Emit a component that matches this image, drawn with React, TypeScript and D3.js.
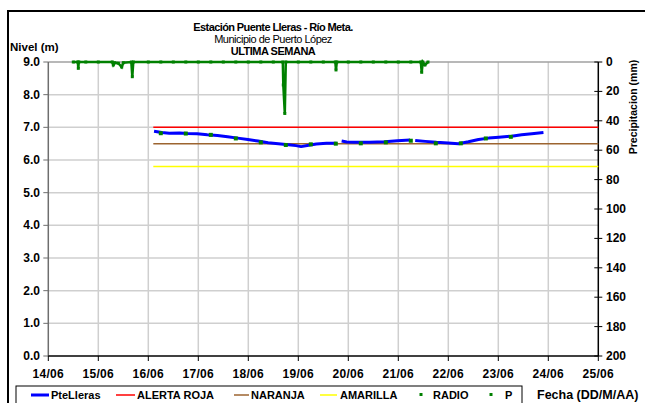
import React from "react";
import * as d3 from "d3";

const dateLabels = ["14/06","15/06","16/06","17/06","18/06","19/06","20/06","21/06","22/06","23/06","24/06","25/06"];
const levelTicks = [0,1,2,3,4,5,6,7,8,9];
const precipTicks = [0,20,40,60,80,100,120,140,160,180,200];

// days since 14/06 00:00
const levelDays = [2.115,2.268,2.420,2.623,2.775,2.977,3.180,3.383,3.586,3.789,3.991,4.194,4.397,4.600,4.803,4.955,5.056,5.208,5.360,5.563,5.766,5.817,5.867,5.969,6.121,6.425,6.729,6.983,7.236,7.287,7.338,7.540,7.763,7.997,8.200,8.402,8.605,8.808,9.011,9.264,9.467,9.670,9.903];
const levelValues: (number|null)[] = [6.88,6.84,6.82,6.83,6.81,6.80,6.77,6.75,6.71,6.67,6.63,6.58,6.53,6.50,6.47,6.44,6.41,6.45,6.49,6.51,6.51,null,6.58,6.55,6.54,6.54,6.56,6.59,6.61,null,6.60,6.57,6.54,6.52,6.50,6.56,6.63,6.67,6.70,6.73,6.77,6.80,6.84];

const radioDays = [2.25,2.75,3.25,3.75,4.25,4.75,5.25,5.75,6.25,6.75,7.25,7.75,8.25,8.75,9.25];
const radioValues = [6.82,6.81,6.77,6.66,6.54,6.46,6.48,6.50,6.51,6.54,6.59,6.51,6.51,6.66,6.71];

const precipDays = [0.50,0.59,0.60,0.61,0.75,1.0,1.28,1.30,1.33,1.40,1.468,1.50,1.66,1.68,1.70,2.0,2.25,2.5,2.75,3.0,3.25,3.5,3.75,4.0,4.25,4.5,4.69,4.70,4.73,4.75,5.0,5.25,5.5,5.74,5.754,5.77,6.0,6.25,6.5,6.75,7.0,7.25,7.45,7.468,7.49,7.534,7.594];
const precipValues = [0,0,4.3,0,0,0,0,2.0,0.5,0.8,3.4,0.5,0,10,0,0,0,0,0,0,0,0,0,0,0,0,0,15.6,35,0,0,0,0,0,5.4,0,0,0,0,0,0,0,0,7,0,2,0];

const thresholdStart = 2.1;
const thresholdEnd = 11;
const alertaRoja = 7.0;
const naranja = 6.5;
const amarilla = 5.8;

const FONT = "'Liberation Sans', Arial, sans-serif";

export default function App() {
  const x = d3.scaleLinear().domain([0, 11]).range([48.3, 598.3]);
  const yL = d3.scaleLinear().domain([0, 9]).range([356, 62]);
  const yR = d3.scaleLinear().domain([0, 200]).range([62, 356]);

  const levelLine = d3.line<[number, number | null]>()
    .defined(d => d[1] !== null)
    .x(d => x(d[0]))
    .y(d => yL(d[1] as number));
  const levelPath = levelLine(levelDays.map((d, i) => [d, levelValues[i]]));

  const pLine = d3.line<[number, number]>().x(d => x(d[0])).y(d => yR(d[1]));
  const pPath = pLine(precipDays.map((d, i) => [d, precipValues[i]]));

  const thresholds = [
    { v: alertaRoja, c: "#FF0000" },
    { v: naranja, c: "#9C6430" },
    { v: amarilla, c: "#FFFF00" },
  ];

  return (
    <svg width={645} height={403} style={{ position: "absolute", left: 0, top: 0, background: "#fff" }} fontFamily={FONT}>
      <rect x={0} y={0} width={645} height={403} fill="#fff" />
      <rect x={8} y={11} width={660} height={420} fill="none" stroke="#000" strokeWidth={2} />

      {/* titles */}
      <text x={273} y={31} textAnchor="middle" fontSize={11} fontWeight="bold" letterSpacing={-0.6}>Estación Puente Lleras - Río Meta.</text>
      <text x={273} y={43} textAnchor="middle" fontSize={11} letterSpacing={-0.5}>Municipio de Puerto López</text>
      <text x={273} y={55} textAnchor="middle" fontSize={11} fontWeight="bold" letterSpacing={-0.5}>ULTIMA SEMANA</text>
      <text x={10} y={51} fontSize={11.5} fontWeight="bold">Nivel (m)</text>

      {/* grid */}
      {dateLabels.map((_, i) => i > 0 && i < 11 ? (
        <line key={"vg" + i} x1={x(i)} x2={x(i)} y1={62} y2={356} stroke="#CFCFCF" strokeWidth={1.5} />
      ) : null)}
      {levelTicks.map(t => t > 0 ? (
        <line key={"hg" + t} x1={x(0)} x2={x(11)} y1={yL(t)} y2={yL(t)} stroke={t === 9 ? "#A0A0A0" : "#CFCFCF"} strokeWidth={1.5} />
      ) : null)}

      {/* axes */}
      <line x1={x(0)} x2={x(0)} y1={62} y2={356} stroke="#6E6E6E" strokeWidth={1.5} />
      {levelTicks.map(t => (
        <g key={"lt" + t}>
          <line x1={x(0) - 5} x2={x(0)} y1={yL(t)} y2={yL(t)} stroke="#6E6E6E" strokeWidth={1} />
          <text x={40} y={yL(t) + 4} textAnchor="end" fontSize={12} fontWeight="bold">{t.toFixed(1)}</text>
        </g>
      ))}
      <line x1={x(0)} x2={x(11)} y1={356} y2={356} stroke="#000" strokeWidth={1.5} />
      {dateLabels.map((lab, i) => (
        <g key={"xt" + i}>
          <line x1={x(i)} x2={x(i)} y1={356} y2={361} stroke="#000" strokeWidth={1} />
          <text x={x(i)} y={377.5} textAnchor="middle" fontSize={12} fontWeight="bold" letterSpacing={0.3}>{lab}</text>
        </g>
      ))}
      <line x1={x(11)} x2={x(11)} y1={62} y2={356} stroke="#000" strokeWidth={1.5} />
      {precipTicks.map(t => (
        <g key={"rt" + t}>
          <line x1={x(11) - 4} x2={x(11) + 4} y1={yR(t)} y2={yR(t)} stroke="#000" strokeWidth={1} />
          <text x={606} y={yR(t) + 4} fontSize={12} fontWeight="bold">{t}</text>
        </g>
      ))}
      <text transform="translate(637,107) rotate(-90)" textAnchor="middle" fontSize={10.5} fontWeight="bold">Precipitacion (mm)</text>

      {/* thresholds */}
      {thresholds.map(th => (
        <line key={"th" + th.v} x1={x(thresholdStart)} x2={x(thresholdEnd)} y1={yL(th.v)} y2={yL(th.v)} stroke={th.c} strokeWidth={1.5} />
      ))}

      {/* level */}
      <path d={levelPath || ""} fill="none" stroke="#0000FF" strokeWidth={3} strokeLinejoin="round" />
      {radioDays.map((d, i) => (
        <rect key={"rd" + i} x={x(d) - 2} y={yL(radioValues[i]) - 2} width={4} height={4} fill="#008000" />
      ))}

      {/* precipitation */}
      <path d={pPath || ""} fill="none" stroke="#008000" strokeWidth={2.5} />
      {precipDays.map((d, i) => (
        <rect key={"pd" + i} x={x(d) - 1.5} y={yR(precipValues[i]) - 1.5} width={3} height={3} fill="#008000" />
      ))}

      {/* legend */}
      <rect x={16} y={386} width={506} height={30} fill="#fff" stroke="#000" strokeWidth={1} />
      <line x1={31} x2={49} y1={395} y2={395} stroke="#0000FF" strokeWidth={3} />
      <text x={51} y={399} fontSize={11} fontWeight="bold">PteLleras</text>
      <line x1={116} x2={135} y1={395} y2={395} stroke="#FF0000" strokeWidth={1.5} />
      <text x={137} y={399} fontSize={11} fontWeight="bold">ALERTA ROJA</text>
      <line x1={234} x2={249} y1={395} y2={395} stroke="#9C6430" strokeWidth={1.5} />
      <text x={251} y={399} fontSize={11} fontWeight="bold">NARANJA</text>
      <line x1={320} x2={337} y1={395} y2={395} stroke="#FFFF00" strokeWidth={1.5} />
      <text x={340} y={399} fontSize={11} fontWeight="bold">AMARILLA</text>
      <rect x={419.5} y={393} width={3} height={3} fill="#008000" />
      <text x={433} y={399} fontSize={11} fontWeight="bold">RADIO</text>
      <rect x={489.5} y={393} width={3} height={3} fill="#008000" />
      <text x={505} y={399} fontSize={11} fontWeight="bold">P</text>
      <text x={537} y={398.5} fontSize={12.5} fontWeight="bold">Fecha (DD/M/AA)</text>
    </svg>
  );
}
